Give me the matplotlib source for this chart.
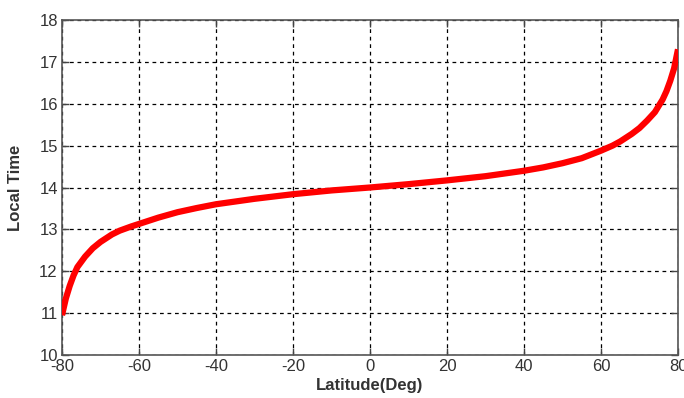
import numpy as np
import matplotlib
matplotlib.use('Agg')
import matplotlib.pyplot as plt

# values
latitude = [-80, -79, -78, -77, -76, -74, -72, -70, -67, -65, -62, -60, -55, -50, -45, -40,
            -30, -20, -10, 0, 10, 20, 30, 40, 45, 50, 55, 60, 63, 65, 68, 70, 72, 74,
            76, 77, 78, 79, 80]
local_time = [10.95, 11.35, 11.65, 11.9, 12.1, 12.35, 12.55, 12.7, 12.88, 12.97, 13.07, 13.13,
              13.28, 13.41, 13.51, 13.6, 13.73, 13.84, 13.93, 14.0, 14.08, 14.17, 14.27, 14.4,
              14.48, 14.58, 14.7, 14.88, 15.0, 15.1, 15.28, 15.42, 15.6, 15.8, 16.1, 16.3,
              16.55, 16.85, 17.3]
x_ticks = [-80, -60, -40, -20, 0, 20, 40, 60, 80]
y_ticks = [10, 11, 12, 13, 14, 15, 16, 17, 18]

plt.rcParams['font.family'] = ['Liberation Sans', 'DejaVu Sans']
plt.rcParams['axes.unicode_minus'] = False

fig = plt.figure(figsize=(6.84, 3.98), dpi=100)
ax = fig.add_axes([62 / 684, 1 - 355 / 398, 616 / 684, 335 / 398])

ax.plot(latitude, local_time, color='#ff0000', linewidth=4.5, solid_capstyle='butt', zorder=3)

ax.set_xlim(-80, 80)
ax.set_ylim(10, 18)
ax.set_xticks(x_ticks)
ax.set_yticks(y_ticks)
ax.grid(True, color='black', linestyle=(0, (3, 3)), linewidth=0.9)

ax.tick_params(direction='in', length=5, width=1, colors='#444444', labelcolor='#333333',
               labelsize=12, top=True, right=True, pad=3)
for s in ax.spines.values():
    s.set_color('#555555')
    s.set_linewidth(1.2)

ax.set_xlabel('Latitude(Deg)', fontsize=12, fontweight='bold', color='#333333', labelpad=3)
ax.set_ylabel('Local Time', fontsize=12, fontweight='bold', color='#333333', labelpad=12)

fig.savefig('out.png', dpi=100)
